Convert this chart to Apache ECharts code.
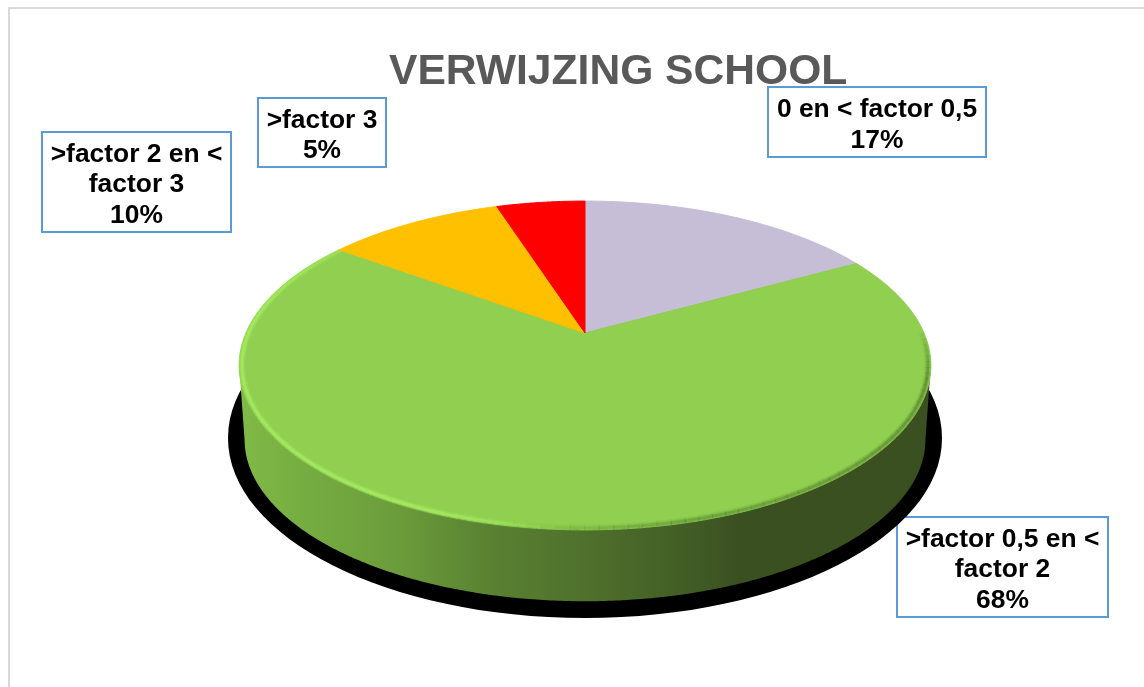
<!DOCTYPE html>
<html>
<head>
<meta charset="utf-8">
<style>
  html, body { margin: 0; padding: 0; background: #fff; }
  #chart { width: 1144px; height: 687px; }
</style>
<script src="https://cdn.jsdelivr.net/npm/echarts@6/dist/echarts.min.js"></script>
</head>
<body>
<div id="chart"></div>
<script>
const chartTitle = "VERWIJZING SCHOOL";
const categories = [
  "0 en < factor 0,5",
  ">factor 0,5 en <\nfactor 2",
  ">factor 2 en <\nfactor 3",
  ">factor 3",
];
const percentages = [17, 68, 10, 5];

const sliceColors = ["#c6bdd6", "#90cf50", "#ffc000", "#ff0000"];
// label boxes: x, y, width, height
const labelBoxes = [
  [768, 87, 218, 70],
  [897, 517, 211, 100],
  [42, 132, 189, 100],
  [258, 98, 128, 69],
];

// the tilted disc: apex on screen, horizontal/vertical radius, perspective
const apexX = 585;
const apexY = 333;
const radiusX = 339;
const radiusY = 158;
const perspective = 0.1976;
const wallDepth = 75;
const wallScale = 0.985;
const deg = Math.PI / 180;
// wall is visible between the two outermost points of the rim
const wallFrom = Math.acos(-perspective) / deg;
const wallTo = 360 - wallFrom;

const total = percentages.reduce((a, b) => a + b, 0);

const project = (angle, r = 1, dy = 0) => {
  const u = r * Math.sin(angle * deg);
  const v = -r * Math.cos(angle * deg);
  const w = 1 - perspective * v;
  return [apexX + (radiusX * u) / w, apexY + (radiusY * v) / w + dy];
};

const arc = (from, to, r, dy) => {
  const pts = [];
  const steps = Math.max(2, Math.ceil(Math.abs(to - from) * 2));
  for (let i = 0; i <= steps; i++) {
    pts.push(project(from + ((to - from) * i) / steps, r, dy));
  }
  return pts;
};

const sliceRange = (index) => {
  let sum = 0;
  for (let i = 0; i < index; i++) sum += percentages[i];
  return [(sum / total) * 360, ((sum + percentages[index]) / total) * 360];
};

const wallGradient = new echarts.graphic.LinearGradient(0, 0, 1, 0, [
  { offset: 0, color: "#80ba47" },
  { offset: 0.09, color: "#76ad41" },
  { offset: 0.23, color: "#6b9c3b" },
  { offset: 0.36, color: "#5a8232" },
  { offset: 0.52, color: "#4d6e2b" },
  { offset: 0.67, color: "#3f5a24" },
  { offset: 0.72, color: "#3a5021" },
  { offset: 1, color: "#3a5021" },
]);

// opacity of the bevel along the rim, by angle on the disc
const ramp = (a, stops) => {
  for (let i = 1; i < stops.length; i++) {
    if (a <= stops[i][0]) {
      const [a0, o0] = stops[i - 1];
      const [a1, o1] = stops[i];
      return a < a0 ? 0 : o0 + ((o1 - o0) * (a - a0)) / (a1 - a0);
    }
  }
  return 0;
};
const darkRim = [[88, 0], [104, 0.8], [165, 0.55], [190, 0]];
const lightRim = [[180, 0], [200, 1], [275, 1], [305, 0.5], [325, 0]];

const bevelSegments = (start, end) => {
  const segments = [];
  for (let a = Math.max(start, 88); a < Math.min(end, 325); a += 2) {
    const points = arc(a, a + 2.1, 0.992, 0);
    const dark = ramp(a, darkRim);
    const light = ramp(a, lightRim);
    [[7, 0.18], [4.5, 0.3], [2.5, 0.55]].forEach(([lineWidth, opacity]) => {
      if (dark > 0) {
        segments.push({
          type: "polyline",
          shape: { points },
          style: { fill: null, stroke: "#4f7a2c", lineWidth, opacity: opacity * dark },
        });
      }
      if (light > 0) {
        segments.push({
          type: "polyline",
          shape: { points },
          style: { fill: null, stroke: "#a9f065", lineWidth, opacity: opacity * light },
        });
      }
    });
  }
  return segments;
};

const renderShadow = (params, api) => ({
  type: "ellipse",
  shape: { cx: apexX, cy: 438, rx: 357, ry: 180 },
  style: { fill: "#000" },
});

const renderWall = (params, api) => {
  const [start, end] = sliceRange(params.dataIndex);
  const from = Math.max(start, wallFrom);
  const to = Math.min(end, wallTo);
  if (to <= from) return null;
  const points = arc(from, to, 1, 0).concat(arc(to, from, wallScale, wallDepth));
  return { type: "polygon", shape: { points }, style: { fill: wallGradient } };
};

const renderTop = (params, api) => {
  const [start, end] = sliceRange(params.dataIndex);
  const color = sliceColors[params.dataIndex];
  const children = [
    {
      type: "polygon",
      shape: { points: [[apexX, apexY]].concat(arc(start, end, 1, 0)) },
      style: { fill: color, stroke: color, lineWidth: 1 },
    },
  ];
  // soft bevel along the rim, only on the large front slice
  if (end - start > 180) children.push(...bevelSegments(start, end));
  return { type: "group", children };
};

const labelGraphics = categories.map((name, i) => {
  const [x, y, width, height] = labelBoxes[i];
  return {
    type: "group",
    z: 100,
    children: [
      {
        type: "rect",
        shape: { x, y, width, height },
        style: { fill: "#fff", stroke: "#5b9bd5", lineWidth: 2 },
      },
      {
        type: "text",
        style: {
          text: name + "\n" + percentages[i] + "%",
          x: x + width / 2,
          y: y + height / 2 + 3,
          align: "center",
          verticalAlign: "middle",
          font: 'bold 26.4px "Liberation Sans", Arial, sans-serif',
          lineHeight: 30.5,
          fill: "#000",
        },
      },
    ],
  };
});

const chart = echarts.init(document.getElementById("chart"));
chart.setOption({
  animation: false,
  backgroundColor: "#fff",
  title: {
    text: chartTitle,
    left: 389,
    top: 51,
    padding: 0,
    textStyle: {
      color: "#595959",
      fontFamily: '"Liberation Sans", Arial, sans-serif',
      fontSize: 42.6,
      fontWeight: "bold",
    },
  },
  graphic: [
    {
      type: "polyline",
      shape: { points: [[9, 700], [9, 8], [1150, 8]] },
      style: { fill: null, stroke: "#d9d9d9", lineWidth: 2 },
    },
    ...labelGraphics,
  ],
  series: [
    { type: "custom", coordinateSystem: "none", silent: true, z: 1, data: [1], renderItem: renderShadow },
    { type: "custom", coordinateSystem: "none", silent: true, z: 2, data: percentages, renderItem: renderWall },
    { type: "custom", coordinateSystem: "none", silent: true, z: 3, data: percentages, renderItem: renderTop },
  ],
});
</script>
</body>
</html>
